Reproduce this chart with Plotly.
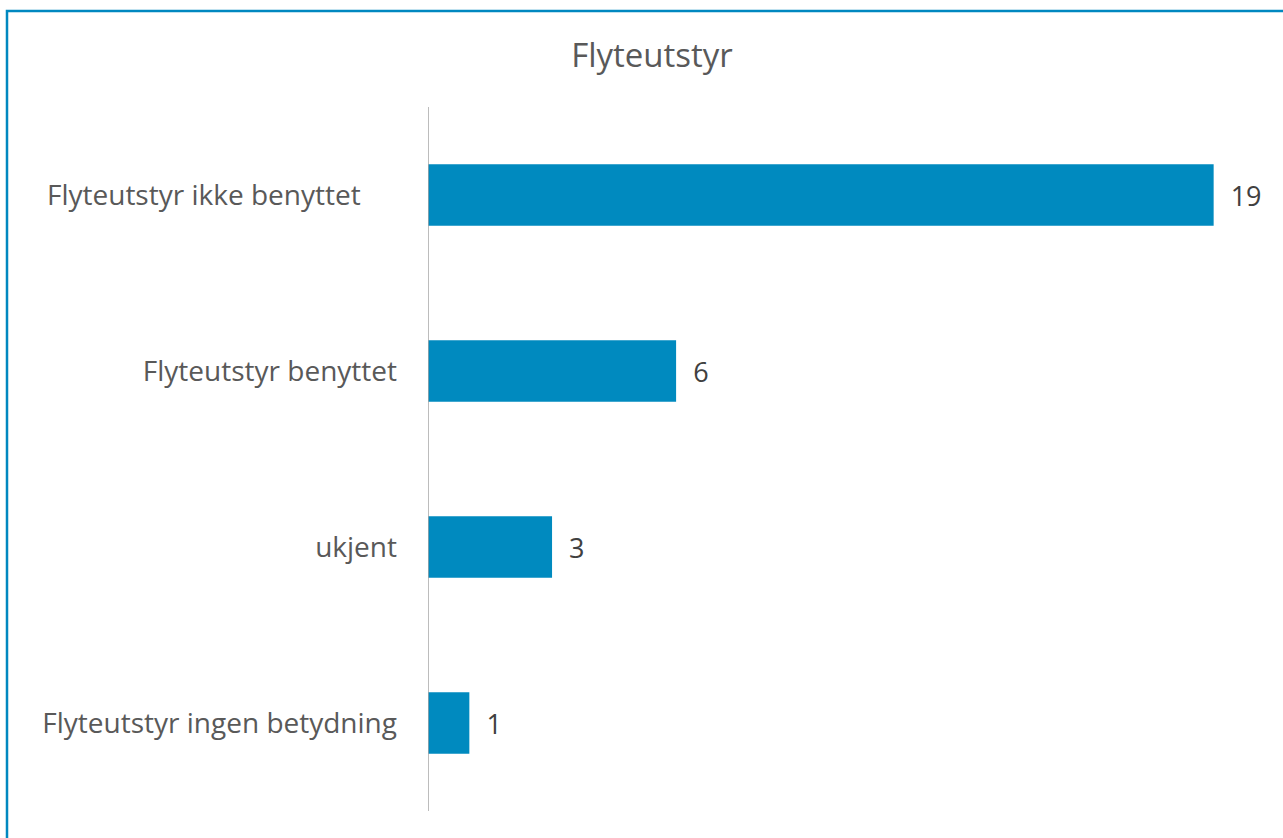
import plotly.graph_objects as go

categories = ["Flyteutstyr ikke benyttet", "Flyteutstyr benyttet", "ukjent", "Flyteutstyr ingen betydning"]
values = [19, 6, 3, 1]
tick_labels = ["Flyteutstyr ikke benyttet" + "\u00a0" * 5, "Flyteutstyr benyttet", "ukjent", "Flyteutstyr ingen betydning"]
title_text = "Flyteutstyr"

W, H = 1283, 838
L, R, T, B = 428, 28, 107, 27
pw, ph = W - L - R, H - T - B

def px_x(p):
    return (p - L) / pw

def px_y(p):
    return (H - B - p) / ph

FONT = "Open Sans"

fig = go.Figure()
fig.add_trace(go.Bar(
    x=values,
    y=categories,
    orientation="h",
    marker=dict(color="#008ABF", line=dict(width=0)),
    width=0.35,
    text=["\u00a0\u00a0" + str(v) for v in values],
    textposition="outside",
    textfont=dict(family=FONT, size=27, color="#404040"),
    cliponaxis=False,
    hoverinfo="skip",
))

fig.update_layout(
    width=W, height=H,
    margin=dict(l=L, r=R, t=T, b=B, pad=0),
    paper_bgcolor="white",
    plot_bgcolor="white",
    showlegend=False,
    title=dict(text=title_text, x=652 / W, xref="container", xanchor="center",
               y=1 - 55 / H, yref="container", yanchor="middle",
               font=dict(family=FONT, size=33, color="#595959")),
    xaxis=dict(range=[0, 20], visible=False, fixedrange=True),
    yaxis=dict(
        categoryorder="array", categoryarray=categories[::-1],
        tickvals=categories, ticktext=tick_labels,
        showgrid=False, zeroline=False,
        showline=False, ticks="",
        tickfont=dict(family=FONT, size=28, color="#595959"),
        ticklabelstandoff=30,
        fixedrange=True,
    ),
    shapes=[
        dict(type="line", xref="x", yref="paper", x0=0, x1=0, y0=0, y1=1,
             line=dict(color="#A6A6A6", width=1.5), layer="above"),
        dict(type="rect", xref="paper", yref="paper",
             x0=px_x(7), x1=px_x(1300), y0=px_y(860), y1=px_y(11),
             line=dict(color="#0088C0", width=2.5), fillcolor="rgba(0,0,0,0)", layer="above"),
    ],
    bargap=0.65,
)

fig.write_html("out.html", config={"displayModeBar": False},
               post_script="document.body.style.margin='0';")
